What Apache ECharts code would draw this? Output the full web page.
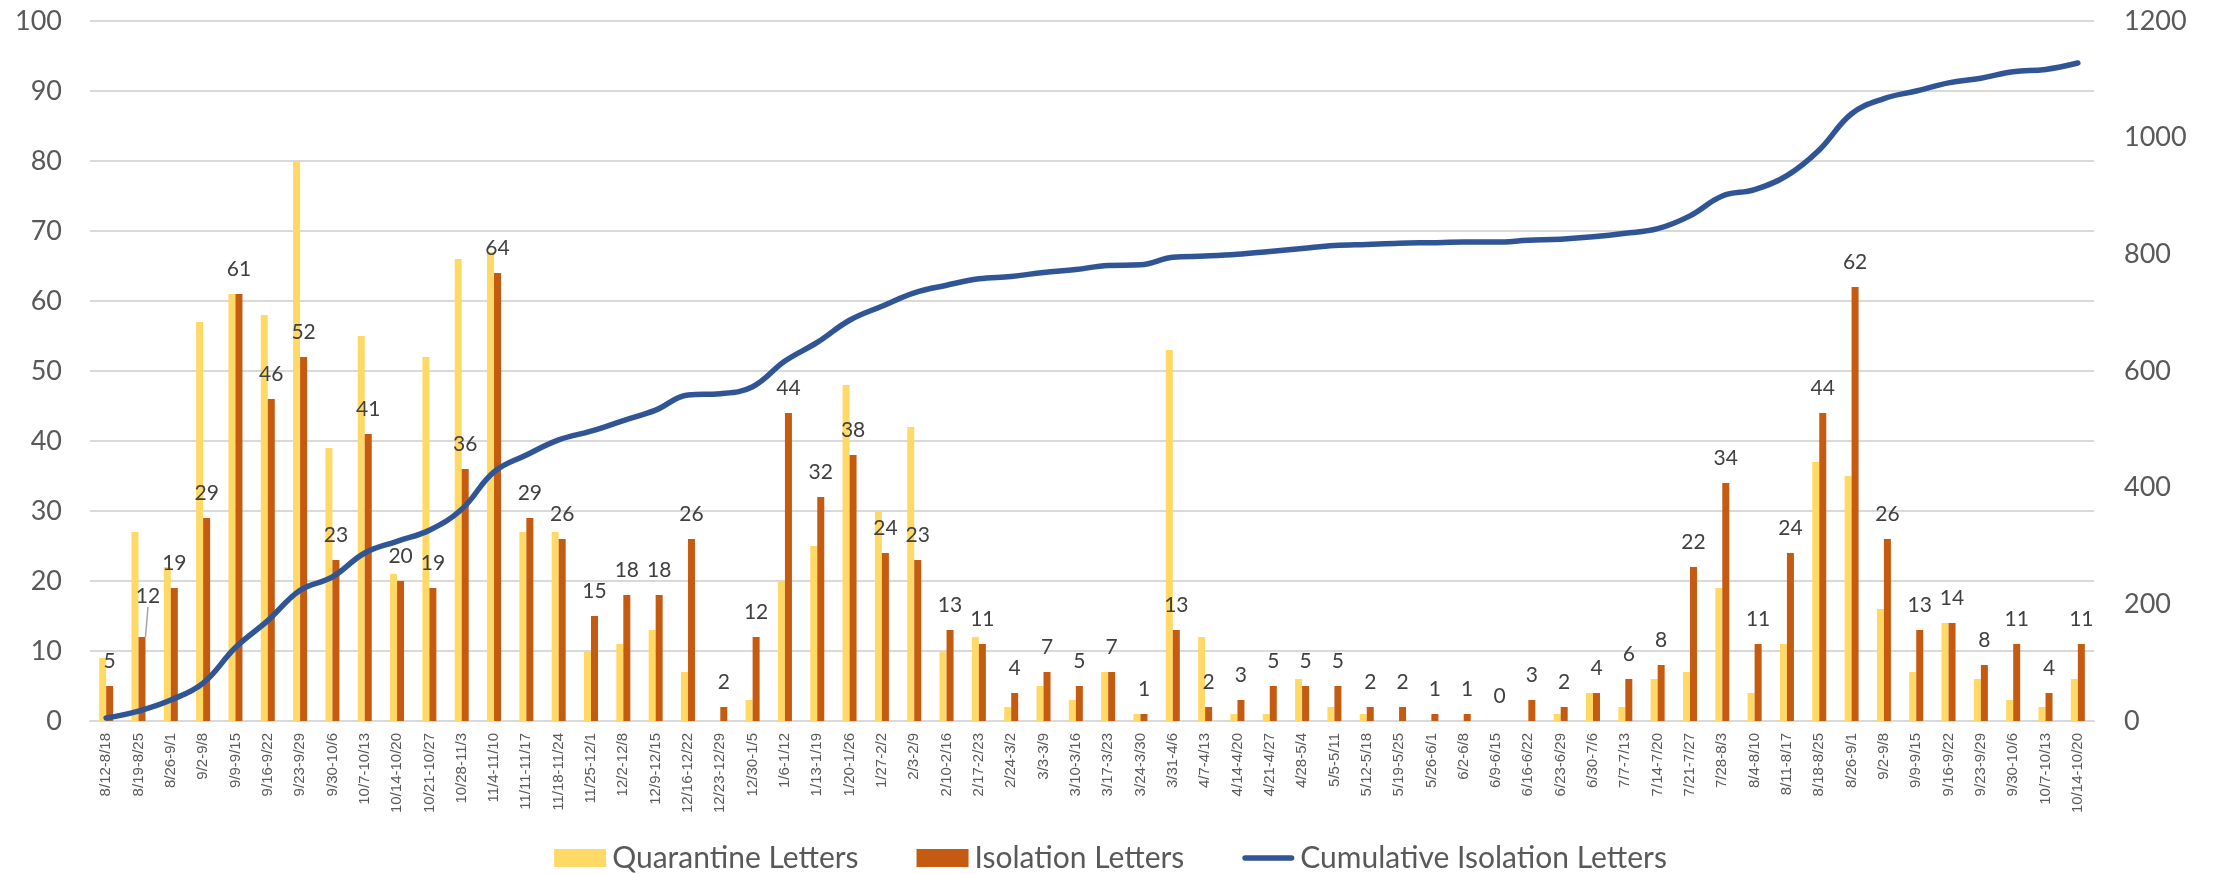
<!DOCTYPE html>
<html>
<head>
<meta charset="utf-8">
<script src="https://cdn.jsdelivr.net/npm/echarts@6/dist/echarts.min.js"></script>
<style>
html,body{margin:0;padding:0;background:#fff;}
#chart{width:2221px;height:874px;}
</style>
</head>
<body>
<div id="chart"></div>
<script>
const categories = ["8/12-8/18","8/19-8/25","8/26-9/1","9/2-9/8","9/9-9/15","9/16-9/22","9/23-9/29","9/30-10/6","10/7-10/13","10/14-10/20","10/21-10/27","10/28-11/3","11/4-11/10","11/11-11/17","11/18-11/24","11/25-12/1","12/2-12/8","12/9-12/15","12/16-12/22","12/23-12/29","12/30-1/5","1/6-1/12","1/13-1/19","1/20-1/26","1/27-2/2","2/3-2/9","2/10-2/16","2/17-2/23","2/24-3/2","3/3-3/9","3/10-3/16","3/17-3/23","3/24-3/30","3/31-4/6","4/7-4/13","4/14-4/20","4/21-4/27","4/28-5/4","5/5-5/11","5/12-5/18","5/19-5/25","5/26-6/1","6/2-6/8","6/9-6/15","6/16-6/22","6/23-6/29","6/30-7/6","7/7-7/13","7/14-7/20","7/21-7/27","7/28-8/3","8/4-8/10","8/11-8/17","8/18-8/25","8/26-9/1","9/2-9/8","9/9-9/15","9/16-9/22","9/23-9/29","9/30-10/6","10/7-10/13","10/14-10/20"];

const quarantineLetters = [9,27,22,57,61,58,80,39,55,21,52,66,67,27,27,10,11,13,7,0,3,20,25,48,30,42,10,12,2,5,3,7,1,53,12,1,1,6,2,1,0,0,0,0,0,1,4,2,6,7,19,4,11,37,35,16,7,14,6,3,2,6];

const isolationLetters = [5,12,19,29,61,46,52,23,41,20,19,36,64,29,26,15,18,18,26,2,12,44,32,38,24,23,13,11,4,7,5,7,1,13,2,3,5,5,5,2,2,1,1,0,3,2,4,6,8,22,34,11,24,44,62,26,13,14,8,11,4,11];

const cumulativeIsolation = [5,17,36,65,126,172,224,247,288,308,327,363,427,456,482,497,515,533,559,561,573,617,649,687,711,734,747,758,762,769,774,781,782,795,797,800,805,810,815,817,819,820,821,821,824,826,830,836,844,866,900,911,935,979,1041,1067,1080,1094,1102,1113,1117,1128];

const leftTicks = {min:0, max:100, interval:10};
const rightTicks = {min:0, max:1200, interval:200};

// index of the isolation label that is lifted with a leader line
const leaderLabelIndex = 1;

const isolationData = isolationLetters.map((v, i) =>
  i === leaderLabelIndex ? {value: v, labelLine: {show: true}} : v);

const chart = echarts.init(document.getElementById('chart'));
const FONT = 'Lato';
chart.setOption({
  animation:false,
  backgroundColor:'#ffffff',
  grid:{left:90, right:127, top:21, bottom:153},
  legend:{
    top:843, left:'center', padding:0,
    itemWidth:52, itemHeight:18, itemGap:58,
    textStyle:{fontFamily:FONT, fontSize:30, color:'#595959', padding:[0,0,0,1]},
    data:[
      {name:'Quarantine Letters', icon:'rect'},
      {name:'Isolation Letters', icon:'rect'},
      {name:'Cumulative Isolation Letters', icon:'path://M3,0 L53,0 A3,3 0 0 1 53,6 L3,6 A3,3 0 0 1 3,0 Z'}
    ]
  },
  xAxis:{
    type:'category', data:categories, boundaryGap:true,
    axisLine:{show:true, lineStyle:{color:'#D9D9D9', width:2}},
    axisTick:{show:false},
    axisLabel:{interval:0, rotate:90, fontFamily:'Liberation Sans', fontSize:15, color:'#595959', margin:12}
  },
  yAxis:[
    {type:'value', min:leftTicks.min, max:leftTicks.max, interval:leftTicks.interval,
     axisLine:{show:false}, axisTick:{show:false},
     splitLine:{lineStyle:{color:'#D9D9D9', width:2}},
     axisLabel:{fontFamily:FONT, fontSize:27, color:'#595959', margin:28}},
    {type:'value', min:rightTicks.min, max:rightTicks.max, interval:rightTicks.interval,
     axisLine:{show:false}, axisTick:{show:false}, splitLine:{show:false},
     axisLabel:{fontFamily:FONT, fontSize:27, color:'#595959', margin:30, formatter:function(v){return String(v);}}}
  ],
  series:[
    {name:'Quarantine Letters', type:'bar', data:quarantineLetters, barWidth:7, barGap:'0%',
     itemStyle:{color:'#FFD966'}},
    {name:'Isolation Letters', type:'bar', data:isolationData, barWidth:7,
     itemStyle:{color:'#C55A11'},
     label:{show:true, position:'top', distance:14, fontFamily:FONT, fontSize:21, color:'#404040'},
     labelLine:{show:false, lineStyle:{color:'#A6A6A6', width:1.5}},
     labelLayout:function(p){ if(p.dataIndex===leaderLabelIndex){ return {dx:6, dy:-16}; } return {}; }
    },
    {name:'Cumulative Isolation Letters', type:'line', yAxisIndex:1, data:cumulativeIsolation,
     smooth:0.4, symbol:'none', lineStyle:{color:'#2F5597', width:5.5, cap:'round'},
     itemStyle:{color:'#2F5597'}, z:5}
  ]
});
</script>
</body>
</html>
